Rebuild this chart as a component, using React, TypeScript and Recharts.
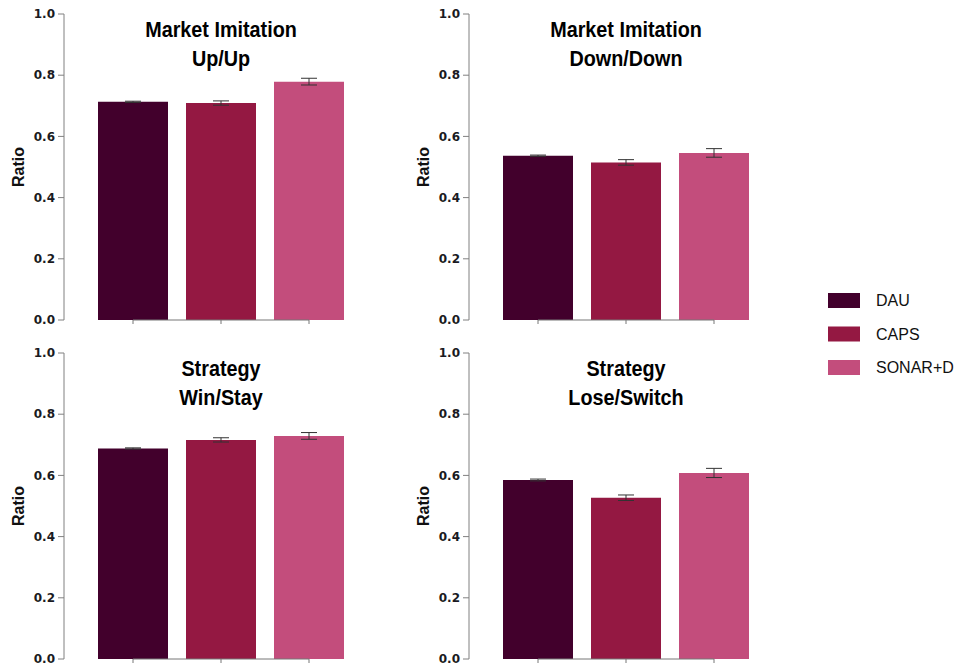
import React from 'react';
import { BarChart, Bar, XAxis, YAxis, Cell, ErrorBar, ReferenceLine } from 'recharts';

const categories = ['DAU', 'CAPS', 'SONAR+D'];
const seriesColors = ['#42002c', '#941842', '#c34d7c'];
const yTicks = [0, 0.2, 0.4, 0.6, 0.8, 1.0];

const upUpValues = [0.713, 0.709, 0.779];
const upUpErrors = [0.002, 0.007, 0.011];
const downDownValues = [0.537, 0.515, 0.546];
const downDownErrors = [0.002, 0.009, 0.014];
const winStayValues = [0.688, 0.716, 0.729];
const winStayErrors = [0.002, 0.007, 0.011];
const loseSwitchValues = [0.585, 0.527, 0.608];
const loseSwitchErrors = [0.003, 0.009, 0.015];

const panelTitles = [
  ['Market Imitation', 'Up/Up'],
  ['Market Imitation', 'Down/Down'],
  ['Strategy', 'Win/Stay'],
  ['Strategy', 'Lose/Switch'],
];

const panels = [
  { values: upUpValues, errors: upUpErrors, left: 0, top: 0 },
  { values: downDownValues, errors: downDownErrors, left: 405, top: 0 },
  { values: winStayValues, errors: winStayErrors, left: 0, top: 339 },
  { values: loseSwitchValues, errors: loseSwitchErrors, left: 405, top: 339 },
];

const CHART_W = 360;
const CHART_H = 329;
const MARGIN = { top: 14, right: 7, bottom: 0, left: 0 };
const YAXIS_W = 64;
const XAXIS_H = 9;
const FONT = "'Liberation Sans', Arial, Helvetica, sans-serif";
const TICK_FONT = "'DejaVu Sans', 'Liberation Sans', Arial, sans-serif";

const RatioLabel = (props: any) => {
  const vb = props.viewBox || {};
  const cx = (vb.x ?? 0) + 18;
  const cy = (vb.y ?? 0) + (vb.height ?? 0) / 2;
  return (
    <text
      x={cx}
      y={cy}
      transform={`rotate(-90, ${cx}, ${cy})`}
      textAnchor="middle"
      dominantBaseline="central"
      fontFamily={FONT}
      fontWeight="bold"
      fontSize={16}
      fill="#111"
    >
      Ratio
    </text>
  );
};

function TitleLine({ x, y, text }: any) {
  return (
    <g transform={`translate(${x}, ${y}) scale(0.9, 1)`}>
      <text x={0} y={0} textAnchor="middle" fontFamily={FONT} fontWeight="bold" fontSize={22} fill="#000">
        {text}
      </text>
    </g>
  );
}

function Panel({ values, errors, left, top, title }: any) {
  const data = categories.map((name, i) => ({ name, value: values[i], err: errors[i] }));
  const plotLeft = MARGIN.left + YAXIS_W + 25;
  const plotRight = CHART_W - MARGIN.right;
  const cx = (plotLeft + plotRight) / 2;
  return (
    <div style={{ position: 'absolute', left, top, width: CHART_W, height: CHART_H }}>
      <BarChart width={CHART_W} height={CHART_H} data={data} margin={MARGIN}>
        <XAxis
          dataKey="name"
          height={XAXIS_H}
          axisLine={false}
          tickLine={{ stroke: '#777' }}
          tickSize={4}
          tickFormatter={() => ''}
          padding={{ left: 25, right: 0 }}
        />
        <YAxis
          width={YAXIS_W}
          domain={[0, 1]}
          ticks={yTicks}
          tickFormatter={(v: number) => v.toFixed(1)}
          axisLine={{ stroke: '#808080' }}
          tickLine={{ stroke: '#808080' }}
          tickSize={6}
          tickMargin={3}
          tick={{ fontFamily: TICK_FONT, fontSize: 12, fontWeight: 'bold', fill: '#1a1a22' }}
          label={{ content: RatioLabel }}
        />
        <ReferenceLine
          segment={[
            { x: categories[0], y: 0 },
            { x: categories[categories.length - 1], y: 0 },
          ]}
          stroke="#777"
          strokeWidth={1}
        />
        <Bar dataKey="value" barSize={70} isAnimationActive={false}>
          {data.map((d, i) => (
            <Cell key={d.name} fill={seriesColors[i]} />
          ))}
          <ErrorBar dataKey="err" width={8} stroke="#333" strokeWidth={1} />
        </Bar>
      </BarChart>
      <svg
        width={CHART_W}
        height={CHART_H}
        style={{ position: 'absolute', left: 0, top: 0, pointerEvents: 'none' }}
      >
        <TitleLine x={cx} y={37} text={title[0]} />
        <TitleLine x={cx} y={66} text={title[1]} />
      </svg>
    </div>
  );
}

function Legend() {
  return (
    <svg width={140} height={100} style={{ position: 'absolute', left: 820, top: 285 }}>
      {categories.map((name, i) => (
        <g key={name}>
          <rect x={8} y={8 + i * 33.5} width={32} height={15} fill={seriesColors[i]} />
          <text x={56} y={21 + i * 33.5} fontFamily={FONT} fontSize={16} fill="#111">
            {name}
          </text>
        </g>
      ))}
    </svg>
  );
}

export default function App() {
  return (
    <div
      style={{
        position: 'absolute',
        left: 0,
        top: 0,
        width: 961,
        height: 668,
        background: '#fff',
        overflow: 'hidden',
      }}
    >
      {panels.map((p, i) => (
        <Panel key={i} {...p} title={panelTitles[i]} />
      ))}
      <Legend />
    </div>
  );
}
